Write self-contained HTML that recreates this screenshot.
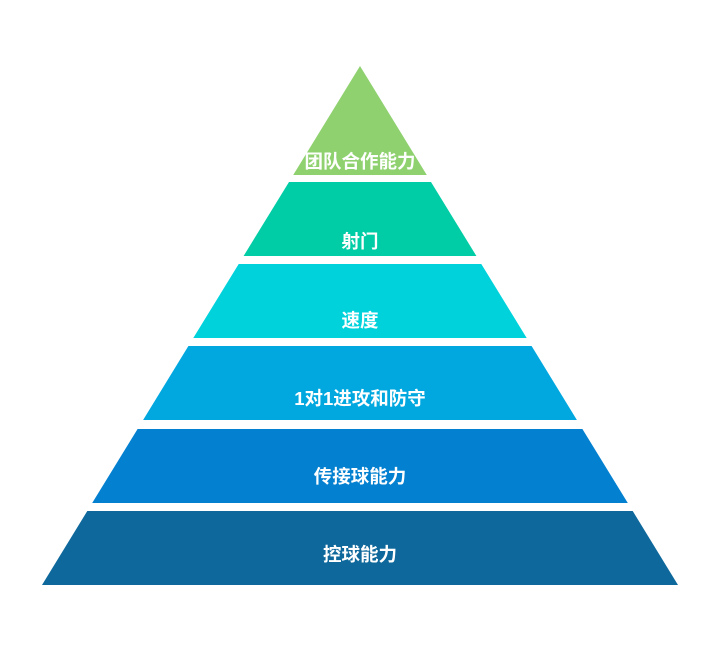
<!DOCTYPE html>
<html><head><meta charset="utf-8"><style>
html,body{margin:0;padding:0;background:#fff;width:720px;height:663px;overflow:hidden}
text{font-family:"Liberation Sans","Noto Sans CJK SC",sans-serif;font-weight:bold;font-size:18.5px;fill:#fff;text-anchor:middle}
</style></head><body>
<svg width="720" height="663" viewBox="0 0 720 663">
<polygon points="360,66 426.8,175 293.2,175" fill="#8fd16f"/>
<polygon points="289,182 431,182 476.4,256 243.6,256" fill="#00cda5"/>
<polygon points="238.7,264 481.3,264 526.7,338 193.3,338" fill="#00d2dc"/>
<polygon points="188.4,346 531.6,346 576.9,420 143.1,420" fill="#00a8df"/>
<polygon points="137.6,429 582.4,429 627.8,503 92.2,503" fill="#0380d0"/>
<polygon points="87.3,511 632.7,511 678,585 42,585" fill="#0e689b"/>
<text x="360" y="168">团队合作能力</text>
<text x="360" y="248">射门</text>
<text x="360" y="327">速度</text>
<text x="360" y="405">1对1进攻和防守</text>
<text x="360" y="483">传接球能力</text>
<text x="360" y="561">控球能力</text>
</svg>
</body></html>
